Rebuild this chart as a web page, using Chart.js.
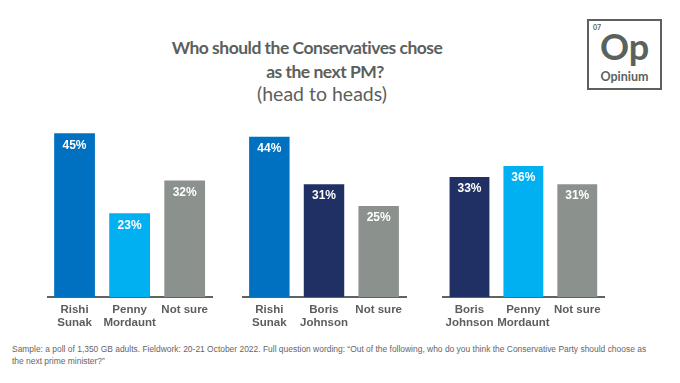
<!DOCTYPE html>
<html>
<head>
<meta charset="utf-8">
<script src="https://cdn.jsdelivr.net/npm/chart.js@4"></script>
<style>
  body { margin: 0; background: #fff; }
  #page { position: relative; width: 680px; height: 383px; overflow: hidden; font-family: "Liberation Sans", Arial, sans-serif; }
  .ttl { position: absolute; left: 0; width: 0; white-space: nowrap; color: #5b605d; font-family: "Lato", sans-serif; font-size: 17.5px; }
  .ttl span { position: absolute; transform: translateX(-50%); }
  .panel { position: absolute; }
  #logo { position: absolute; left: 587px; top: 19px; width: 75px; height: 71px; border: 2px solid #5b625e; box-sizing: border-box; color: #5b625e; font-family: "Lato", sans-serif; }
  #foot { position: absolute; left: 12px; top: 343px; font-size: 8.45px; line-height: 12px; color: #666; white-space: nowrap; }
</style>
</head>
<body>
<div id="page">
  <div class="ttl" style="top:37px;left:307px;font-weight:bold;letter-spacing:-0.5px"><span>Who should the Conservatives chose</span></div>
  <div class="ttl" style="top:61px;left:325px;font-weight:bold;letter-spacing:-0.5px"><span>as the next PM?</span></div>
  <div class="ttl" style="top:82px;left:322px;font-size:19.5px"><span>(head to heads)</span></div>

  <div id="logo">
    <div style="position:absolute;left:4px;top:2px;font-size:7px;font-weight:bold">07</div>
    <div style="position:absolute;left:0;width:100%;top:6px;text-align:center;font-size:36px;font-weight:bold;line-height:38px">Op</div>
    <div style="position:absolute;left:0;width:100%;top:48px;text-align:center;font-size:12.5px;font-weight:bold">Opinium</div>
  </div>

  <div class="panel" style="left:47px;top:115px;width:168px;height:222px"><canvas id="c1"></canvas></div>
  <div class="panel" style="left:242px;top:115px;width:167px;height:222px"><canvas id="c2"></canvas></div>
  <div class="panel" style="left:439px;top:115px;width:168px;height:222px"><canvas id="c3"></canvas></div>

  <div id="foot">Sample: a poll of 1,350 GB adults. Fieldwork: 20-21 October 2022. Full question wording: “Out of the following, who do you think the Conservative Party should choose as<br>the next prime minister?”</div>
</div>
<script>
// first head to head
const labelsA = [['Rishi', 'Sunak'], ['Penny', 'Mordaunt'], 'Not sure'];
const valuesA = [45, 23, 32];
// second
const labelsB = [['Rishi', 'Sunak'], ['Boris', 'Johnson'], 'Not sure'];
const valuesB = [44, 31, 25];
// third
const labelsC = [['Boris', 'Johnson'], ['Penny', 'Mordaunt'], 'Not sure'];
const valuesC = [33, 36, 31];

const yMax = 50;

const colours = {
  'Rishi': '#0070c0',
  'Penny': '#00b0f0',
  'Boris': '#203064',
  'Not sure': '#8b928e'
};

function colourOf(label) {
  const key = Array.isArray(label) ? label[0] : label;
  return colours[key];
}

// white % labels inside the top of each bar
const valueLabels = {
  id: 'valueLabels',
  afterDatasetsDraw(chart) {
    const ctx = chart.ctx;
    const meta = chart.getDatasetMeta(0);
    ctx.save();
    ctx.fillStyle = '#fff';
    ctx.font = 'bold 12px "Liberation Sans", Arial, sans-serif';
    ctx.textAlign = 'center';
    ctx.textBaseline = 'middle';
    meta.data.forEach((bar, i) => {
      ctx.fillText(chart.data.datasets[0].data[i] + '%', bar.x, bar.y + 12);
    });
    ctx.restore();
  }
};

function drawPanel(id, labels, values) {
  new Chart(document.getElementById(id), {
    type: 'bar',
    data: {
      labels: labels,
      datasets: [{
        data: values,
        backgroundColor: labels.map(colourOf),
        barPercentage: 0.74,
        categoryPercentage: 1
      }]
    },
    options: {
      responsive: true,
      maintainAspectRatio: false,
      animation: false,
      layout: { padding: 0 },
      plugins: { legend: { display: false }, tooltip: { enabled: false } },
      scales: {
        x: {
          grid: { display: false, drawTicks: false },
          border: { display: true, color: '#5f6461', width: 2 },
          ticks: {
            color: '#5d5d5d',
            padding: 7,
            maxRotation: 0,
            autoSkip: false,
            font: { family: '"Liberation Sans", Arial, sans-serif', size: 11.5, weight: 'bold', lineHeight: 1.1 }
          },
          afterFit(scale) { scale.height = 40; }
        },
        y: { display: false, min: 0, max: yMax }
      }
    },
    plugins: [valueLabels]
  });
}

drawPanel('c1', labelsA, valuesA);
drawPanel('c2', labelsB, valuesB);
drawPanel('c3', labelsC, valuesC);
</script>
</body>
</html>
